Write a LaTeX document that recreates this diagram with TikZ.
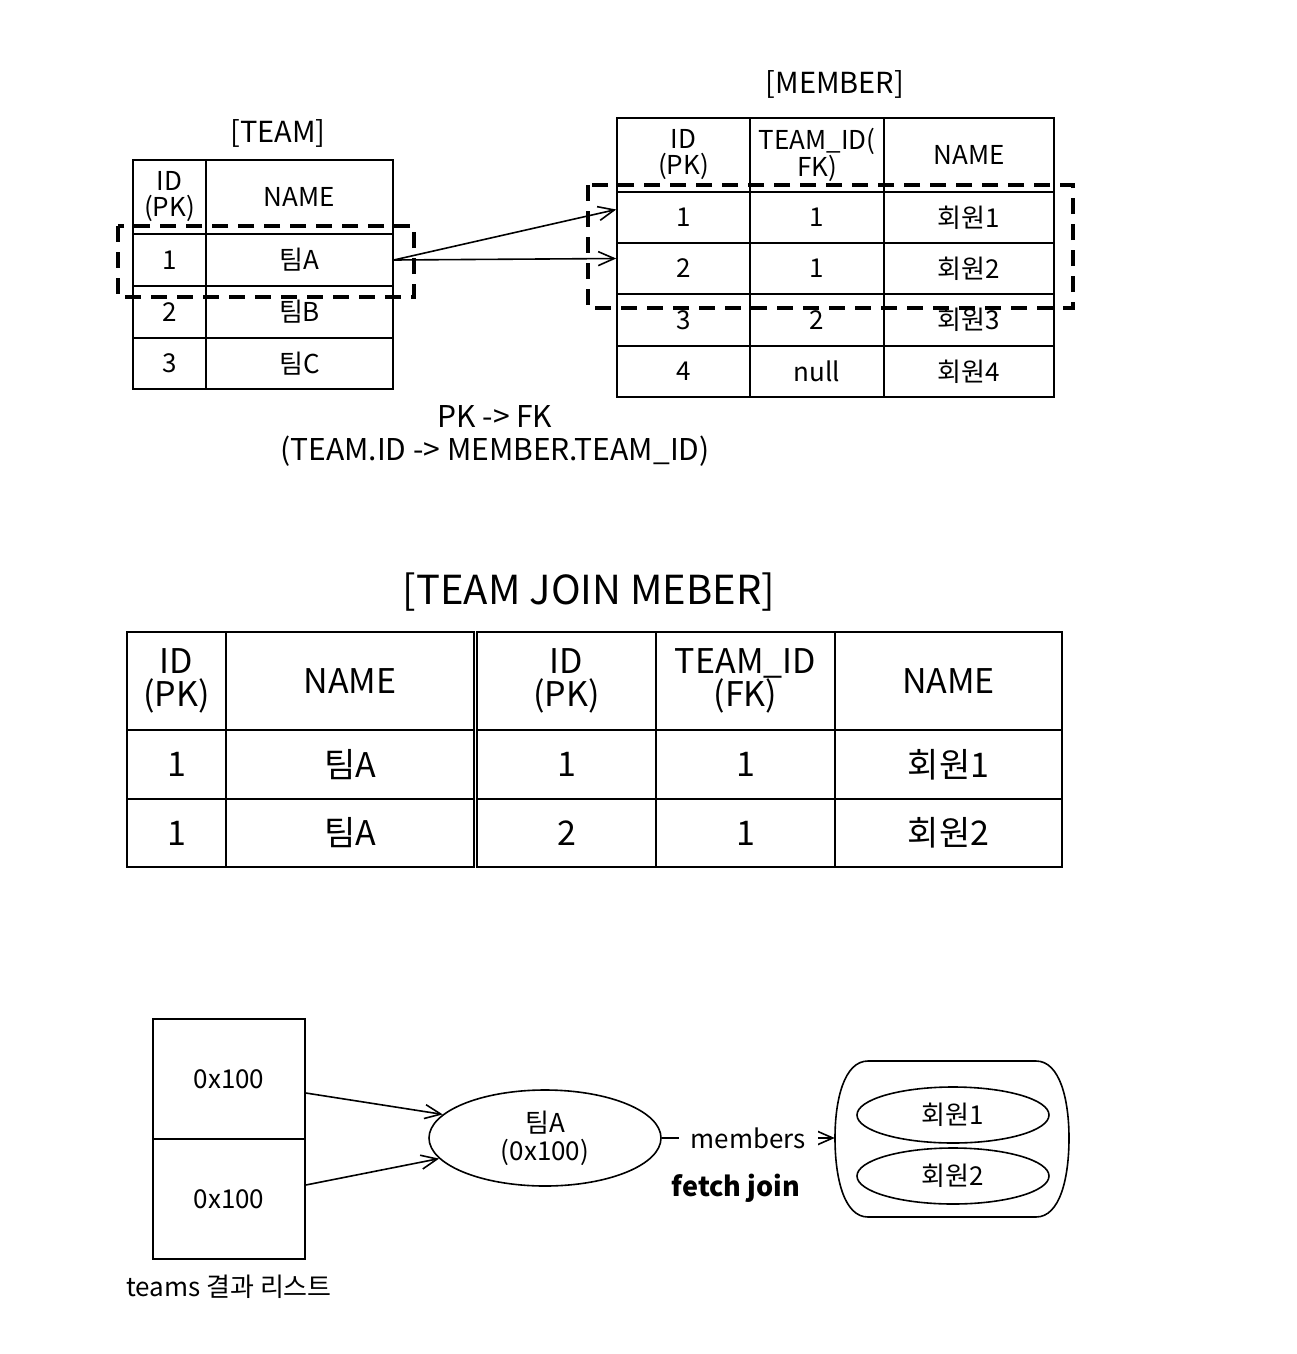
\documentclass[tikz,border=0pt]{standalone}
\usepackage{fontspec}
\setmainfont{Noto Sans CJK KR}
\usetikzlibrary{arrows.meta,shapes.geometric}
\newcommand\fsz[2]{\fontsize{#1}{#2}\selectfont}
\tikzset{
  tc/.style={draw, line width=1.6pt, inner sep=0pt, align=center, font=\fsz{26}{26}},
  jc/.style={draw, line width=2.6pt, inner sep=0pt, align=center, font=\fsz{34}{33}},
  ttl/.style={inner sep=0pt, align=center, font=\fsz{29}{30}},
  dbox/.style={line width=3.5pt, dash pattern=on 16pt off 10pt},
  arr/.style={line width=1.6pt, -{Straight Barb[length=16pt,width=14pt]}},
  mbox/.style={draw, line width=1.6pt, inner sep=0pt, align=center, font=\fsz{26}{28}},
}
\begin{document}
\begin{tikzpicture}[x=1pt,y=-1pt]
\useasboundingbox (0,0) rectangle (1296,1354);
% ---------- TEAM table
\node[ttl] (teamtitle) at (278,133) {[TEAM]};
\node[tc, minimum width=73pt, minimum height=74pt] (t00) at (169.5,197) {ID\\(PK)};
\node[tc, minimum width=187pt, minimum height=74pt] (t01) at (299.5,197) {NAME};
\node[tc, minimum width=73pt, minimum height=52pt] (t10) at (169.5,260) {1};
\node[tc, minimum width=187pt, minimum height=52pt] (t11) at (299.5,260) {팀A};
\node[tc, minimum width=73pt, minimum height=52pt] (t20) at (169.5,312) {2};
\node[tc, minimum width=187pt, minimum height=52pt] (t21) at (299.5,312) {팀B};
\node[tc, minimum width=73pt, minimum height=51pt] (t30) at (169.5,363.5) {3};
\node[tc, minimum width=187pt, minimum height=51pt] (t31) at (299.5,363.5) {팀C};
% ---------- MEMBER table
\node[ttl] (memtitle) at (835,84) {[MEMBER]};
\node[tc, minimum width=133pt, minimum height=74pt] (m00) at (683.5,155) {ID\\(PK)};
\node[tc, minimum width=134pt, minimum height=74pt] (m01) at (817,155) {TEAM\_ID(\\FK)};
\node[tc, minimum width=170pt, minimum height=74pt] (m02) at (969,155) {NAME};
\node[tc, minimum width=133pt, minimum height=51pt] (m10) at (683.5,217.5) {1};
\node[tc, minimum width=134pt, minimum height=51pt] (m11) at (817,217.5) {1};
\node[tc, minimum width=170pt, minimum height=51pt] (m12) at (969,217.5) {회원1};
\node[tc, minimum width=133pt, minimum height=51pt] (m20) at (683.5,268.5) {2};
\node[tc, minimum width=134pt, minimum height=51pt] (m21) at (817,268.5) {1};
\node[tc, minimum width=170pt, minimum height=51pt] (m22) at (969,268.5) {회원2};
\node[tc, minimum width=133pt, minimum height=52pt] (m30) at (683.5,320) {3};
\node[tc, minimum width=134pt, minimum height=52pt] (m31) at (817,320) {2};
\node[tc, minimum width=170pt, minimum height=52pt] (m32) at (969,320) {회원3};
\node[tc, minimum width=133pt, minimum height=51pt] (m40) at (683.5,371.5) {4};
\node[tc, minimum width=134pt, minimum height=51pt] (m41) at (817,371.5) {null};
\node[tc, minimum width=170pt, minimum height=51pt] (m42) at (969,371.5) {회원4};
% dashed selections
\draw[dbox] (118,226) rectangle (414,297);
\draw[dbox] (588,185) rectangle (1073,308);
% arrows
\draw[arr] (t11.east) -- ([yshift=8pt]m10.west);
\draw[arr] (t11.east) -- ([yshift=10pt]m20.west);
\node[inner sep=0pt, align=center, font=\fsz{30}{33}] (pkfk) at (495,436) {PK -> FK\\(TEAM.ID -> MEMBER.TEAM\_ID)};
% ---------- JOIN table
\node[inner sep=0pt, font=\fsz{40}{42}] (jointitle) at (589,592) {[TEAM JOIN MEBER]};
\node[jc, minimum width=99pt, minimum height=98pt] (j00) at (176.5,681) {ID\\(PK)};
\node[jc, minimum width=248pt, minimum height=98pt] (j01) at (350,681) {NAME};
\node[jc, minimum width=179pt, minimum height=98pt] (j02) at (566.5,681) {ID\\(PK)};
\node[jc, minimum width=179pt, minimum height=98pt] (j03) at (745.5,681) {TEAM\_ID\\(FK)};
\node[jc, minimum width=227pt, minimum height=98pt] (j04) at (948.5,681) {NAME};
\node[jc, minimum width=99pt, minimum height=69pt] (j10) at (176.5,764.5) {1};
\node[jc, minimum width=248pt, minimum height=69pt] (j11) at (350,764.5) {팀A};
\node[jc, minimum width=179pt, minimum height=69pt] (j12) at (566.5,764.5) {1};
\node[jc, minimum width=179pt, minimum height=69pt] (j13) at (745.5,764.5) {1};
\node[jc, minimum width=227pt, minimum height=69pt] (j14) at (948.5,764.5) {회원1};
\node[jc, minimum width=99pt, minimum height=68pt] (j20) at (176.5,833) {1};
\node[jc, minimum width=248pt, minimum height=68pt] (j21) at (350,833) {팀A};
\node[jc, minimum width=179pt, minimum height=68pt] (j22) at (566.5,833) {2};
\node[jc, minimum width=179pt, minimum height=68pt] (j23) at (745.5,833) {1};
\node[jc, minimum width=227pt, minimum height=68pt] (j24) at (948.5,833) {회원2};
% ---------- object graph
\node[mbox, minimum width=152pt, minimum height=120pt] (b1) at (229,1079) {0x100};
\node[mbox, minimum width=152pt, minimum height=120pt] (b2) at (229,1199) {0x100};
\node[inner sep=0pt, font=\fsz{26}{28}] (cap) at (229,1287) {teams 결과 리스트};
\node[mbox, ellipse, minimum width=232pt, minimum height=96pt] (ta) at (545,1138) {팀A\\(0x100)};
\draw[arr] ([yshift=-14pt]b1.east) -- (ta.167);
\draw[arr] ([yshift=14pt]b2.east) -- (ta.191);
\node[minimum width=234pt, minimum height=158pt, inner sep=0pt] (cont) at (952,1138) {};
\draw[line width=1.6pt] (868,1061) -- (1036,1061)
  .. controls (1060,1061) and (1069,1100) .. (1069,1138)
  .. controls (1069,1178) and (1060,1217) .. (1036,1217) -- (868,1217)
  .. controls (844,1217) and (835,1178) .. (835,1138)
  .. controls (835,1100) and (844,1061) .. (868,1061) -- cycle;
\node[mbox, ellipse, minimum width=192pt, minimum height=56pt] (r1) at (953,1115) {회원1};
\node[mbox, ellipse, minimum width=192pt, minimum height=56pt] (r2) at (953,1176) {회원2};
\draw[arr] (ta.east) -- node[fill=white, inner xsep=12pt, inner ysep=2pt, font=\fsz{26}{28}] (memlbl) {members} (cont.west);
\node[inner sep=0pt, font=\fsz{27}{30}\bfseries] (fj) at (736,1188) {fetch join};
\end{tikzpicture}
\end{document}
